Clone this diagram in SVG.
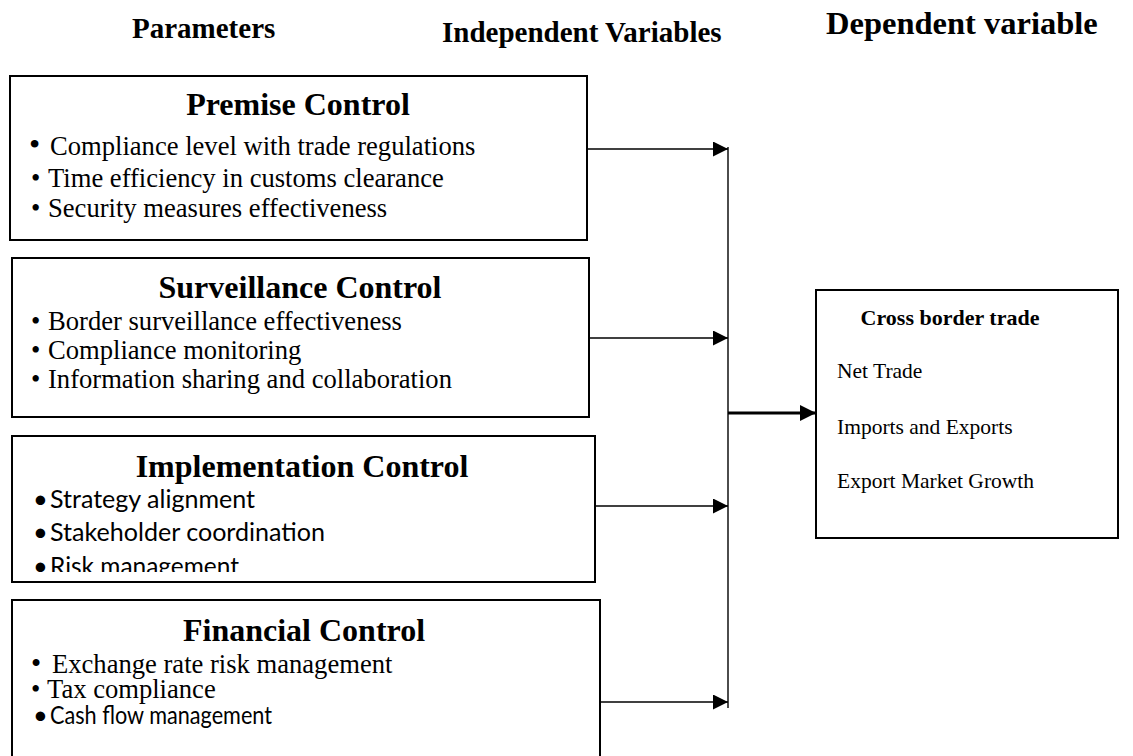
<svg xmlns="http://www.w3.org/2000/svg" width="1133" height="756" viewBox="0 0 1133 756">
<style>
.box{fill:#fff;stroke:#000;stroke-width:2}
.hdr{font-family:"Liberation Serif","Times New Roman",serif;font-weight:bold;font-size:29px;fill:#000}
.ttl{font-family:"Liberation Serif","Times New Roman",serif;font-weight:bold;font-size:32px;fill:#000;text-anchor:middle}
.tm{font-family:"Liberation Serif","Times New Roman",serif;font-size:26.6px;fill:#000}
.cb{font-family:Lato,"Liberation Sans",sans-serif;font-size:25.5px;fill:#000}
.dt{font-family:"Liberation Serif","Times New Roman",serif;font-size:21.5px;fill:#000}
.dtt{font-family:"Liberation Serif","Times New Roman",serif;font-size:22px;font-weight:bold;fill:#000;text-anchor:middle}
.ln{stroke:#000;stroke-width:1.4;fill:none}
</style>
<defs>
<marker id="ah" markerWidth="15" markerHeight="15" viewBox="0 0 15 15" refX="15" refY="7.5" orient="auto" markerUnits="userSpaceOnUse">
<path d="M0,0 L15,7.5 L0,15 Z" fill="#000"/>
</marker>
<marker id="ahb" markerWidth="16" markerHeight="16" viewBox="0 0 16 16" refX="16" refY="8" orient="auto" markerUnits="userSpaceOnUse">
<path d="M0,0 L16,8 L0,16 Z" fill="#000"/>
</marker>
<clipPath id="impclip"><rect x="12" y="436" width="583" height="136"/></clipPath>
</defs>

<g id="headers">
<text class="hdr" x="132" y="38">Parameters</text>
<text class="hdr" x="442" y="42">Independent Variables</text>
<text class="hdr" x="826" y="34" style="font-size:32.5px">Dependent variable</text>
</g>

<g id="premise">
<rect class="box" x="10" y="76" width="577" height="164"/>
<text class="ttl" x="298" y="115">Premise Control</text>
<text class="tm" x="29" y="155" style="font-size:32px">•</text>
<text class="tm" x="50" y="155">Compliance level with trade regulations</text>
<text class="tm" x="31" y="187">•</text>
<text class="tm" x="48" y="187">Time efficiency in customs clearance</text>
<text class="tm" x="31" y="217">•</text>
<text class="tm" x="48" y="217">Security measures effectiveness</text>
</g>

<g id="surveillance">
<rect class="box" x="12" y="258" width="577" height="159"/>
<text class="ttl" x="300" y="298">Surveillance Control</text>
<text class="tm" x="31" y="330">•</text>
<text class="tm" x="48" y="330">Border surveillance effectiveness</text>
<text class="tm" x="31" y="359">•</text>
<text class="tm" x="48" y="359">Compliance monitoring</text>
<text class="tm" x="31" y="388">•</text>
<text class="tm" x="48" y="388">Information sharing and collaboration</text>
</g>

<g id="implementation">
<rect class="box" x="12" y="436" width="583" height="146"/>
<text class="ttl" x="302" y="477">Implementation Control</text>
<g clip-path="url(#impclip)">
<text class="cb" x="33" y="508">•</text>
<text class="cb" x="50" y="508" textLength="205" lengthAdjust="spacingAndGlyphs">Strategy alignment</text>
<text class="cb" x="33" y="541">•</text>
<text class="cb" x="50" y="541" textLength="275" lengthAdjust="spacingAndGlyphs">Stakeholder coordination</text>
<text class="cb" x="33" y="575">•</text>
<text class="cb" x="50" y="575" textLength="189" lengthAdjust="spacingAndGlyphs">Risk management</text>
</g>
</g>

<g id="financial">
<rect class="box" x="12" y="600" width="588" height="170"/>
<text class="ttl" x="304" y="641">Financial Control</text>
<text class="tm" x="31" y="673" style="font-size:29px">•</text>
<text class="tm" x="52" y="673">Exchange rate risk management</text>
<text class="tm" x="31" y="698">•</text>
<text class="tm" x="47" y="698">Tax compliance</text>
<text class="cb" x="33" y="724">•</text>
<text class="cb" x="50" y="724" textLength="222" lengthAdjust="spacingAndGlyphs">Cash flow management</text>
</g>

<g id="cross-border-trade">
<rect class="box" x="816" y="290" width="302" height="248"/>
<text class="dtt" x="950" y="325">Cross border trade</text>
<text class="dt" x="837" y="378">Net Trade</text>
<text class="dt" x="837" y="434">Imports and Exports</text>
<text class="dt" x="837" y="488">Export Market Growth</text>
</g>

<g id="connectors">
<line class="ln" x1="588" y1="149" x2="728" y2="149" marker-end="url(#ah)"/>
<line class="ln" x1="589" y1="338" x2="728" y2="338" marker-end="url(#ah)"/>
<line class="ln" x1="595" y1="506" x2="728" y2="506" marker-end="url(#ah)"/>
<line class="ln" x1="600" y1="702" x2="728" y2="702" marker-end="url(#ah)"/>
<line class="ln" x1="728" y1="147" x2="728" y2="708"/>
<line x1="728" y1="413" x2="816" y2="413" stroke="#000" stroke-width="3" marker-end="url(#ahb)"/>
</g>
</svg>
